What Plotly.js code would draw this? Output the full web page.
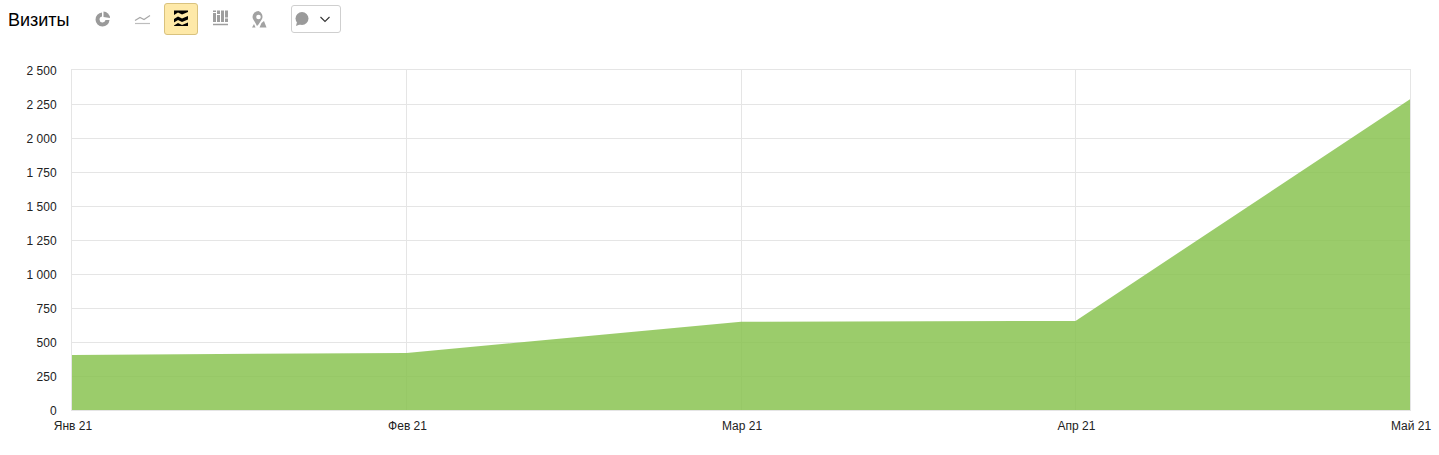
<!DOCTYPE html>
<html lang="ru">
<head>
<meta charset="utf-8">
<script src="https://cdn.plot.ly/plotly-3.0.1.min.js"></script>
<style>
html,body{margin:0;padding:0;background:#fff;overflow:hidden}
#chart{position:absolute;left:0;top:0;width:1439px;height:455px}
#tools{position:absolute;left:0;top:0;width:360px;height:40px;pointer-events:none}
</style>
</head>
<body>
<div id="chart"></div>
<svg id="tools" viewBox="0 0 360 40" xmlns="http://www.w3.org/2000/svg">
  <!-- pie icon -->
  <path d="M102 12.500a7 7 0 1 0 7.500 7.500l-4 0a3 3 0 1 1-3.500-3.500z" fill="#9a9a9a"/>
  <path d="M103.500 11.500a7 7 0 0 1 6.500 6.500l-6.500 -1z" fill="#9a9a9a"/>
  <!-- line icon -->
  <path d="M135 20.500l5-3 4 2 6-4" fill="none" stroke="#a8a8a8" stroke-width="1.200"/>
  <path d="M135 23.500h15" stroke="#bdbdbd" stroke-width="1.200"/>
  <!-- active area button -->
  <rect x="164.500" y="3.500" width="33" height="31" rx="2.500" fill="#fee9a8" stroke="#d9c27e"/>
  <path d="M174 15l4-2.500 4 2 6-2.500v-1.500h-14z" fill="#000"/>
  <path d="M174 19l4-2.500 4 2 6-2.500v3.500l-6 2.500-4-2-4 2.500z" fill="#000"/>
  <path d="M174 25.500l4-2.500 4 2 6-2.500v3.500h-14z" fill="#000"/>
  <!-- stacked columns icon -->
  <path d="M213 13h3v9h-3zM213 10.500h3v1.500h-3zM217 15h3v7h-3zM217 10.500h3v3.500h-3zM221 10.500h3v11.500h-3zM225 10.500h3v7h-3zM225 18.500h3v3.500h-3z" fill="#9e9e9e"/>
  <path d="M213 24.500h15" stroke="#9e9e9e" stroke-width="1.500"/>
  <!-- map pin icon -->
  <path d="M258.500 11a6 6 0 0 0-6 6c0 2.500 2.500 4.500 4.500 9l1.500-1.500 3.500-5.500a6 6 0 0 0-3.500-8z" fill="#a2a2a2"/>
  <circle cx="258.500" cy="17" r="2.300" fill="#fff"/>
  <path d="M261.500 23l2.500-2 2.500 6.500h-7z" fill="#a2a2a2"/>
  <path d="M252 27.500l2-3.500 1.500 3.500z" fill="#a2a2a2"/>
  <!-- comment dropdown -->
  <rect x="291.500" y="5.500" width="49" height="27" rx="2.500" fill="#fff" stroke="#cfcfcf"/>
  <ellipse cx="302" cy="18.500" rx="6.500" ry="6.500" fill="#9a9a9a"/>
  <path d="M297 22l-1 4 5-2z" fill="#9a9a9a"/>
  <path d="M320.500 17l4.500 4.500 4.500-4.500" fill="none" stroke="#333" stroke-width="1.100"/>
</svg>
<script>
var categories = ['Янв 21', 'Фев 21', 'Мар 21', 'Апр 21', 'Май 21'];
var visits = [405, 420, 648, 655, 2285];
var yTickValues = [0, 250, 500, 750, 1000, 1250, 1500, 1750, 2000, 2250, 2500];
var yTickLabels = ['0', '250', '500', '750', '1 000', '1 250', '1 500', '1 750', '2 000', '2 250', '2 500'];
var chartTitle = 'Визиты';

var tickFont = {family: '"Liberation Sans", Arial, sans-serif', size: 12, color: '#222'};

Plotly.newPlot('chart', [{
  type: 'scatter',
  mode: 'lines',
  x: [0, 1, 2, 3, 4],
  y: visits,
  fill: 'tozeroy',
  fillcolor: 'rgba(137,195,81,0.85)',
  line: {width: 0, color: 'rgba(137,195,81,0)'},
  hoverinfo: 'skip'
}], {
  width: 1439,
  height: 455,
  margin: {l: 72, r: 29, t: 70, b: 45, pad: 0},
  paper_bgcolor: '#fff',
  plot_bgcolor: '#fff',
  showlegend: false,
  title: {
    text: chartTitle,
    x: 8 / 1439,
    xanchor: 'left',
    xref: 'container',
    yref: 'container',
    y: 1 - 20 / 455,
    yanchor: 'middle',
    font: {family: '"Liberation Sans", Arial, sans-serif', size: 18, color: '#000'}
  },
  xaxis: {
    type: 'linear',
    range: [0, 4],
    tickmode: 'array',
    tickvals: [0, 1, 2, 3, 4],
    ticktext: categories,
    ticks: '',
    showline: true,
    mirror: true,
    linecolor: '#e5e5e5',
    linewidth: 1,
    zeroline: false,
    gridcolor: '#e5e5e5',
    gridwidth: 1,
    tickfont: tickFont,
    tickangle: 0,
    ticklabelstandoff: 5,
    ticklabelshift: 1
  },
  yaxis: {
    range: [0, 2500],
    tickmode: 'array',
    tickvals: yTickValues,
    ticktext: yTickLabels,
    ticks: '',
    showline: true,
    mirror: true,
    linecolor: '#e5e5e5',
    linewidth: 1,
    zeroline: false,
    gridcolor: '#e5e5e5',
    gridwidth: 1,
    tickfont: tickFont,
    ticklabelstandoff: 12,
    ticklabelshift: 1
  }
}, {displayModeBar: false, staticPlot: true});
</script>
</body>
</html>
